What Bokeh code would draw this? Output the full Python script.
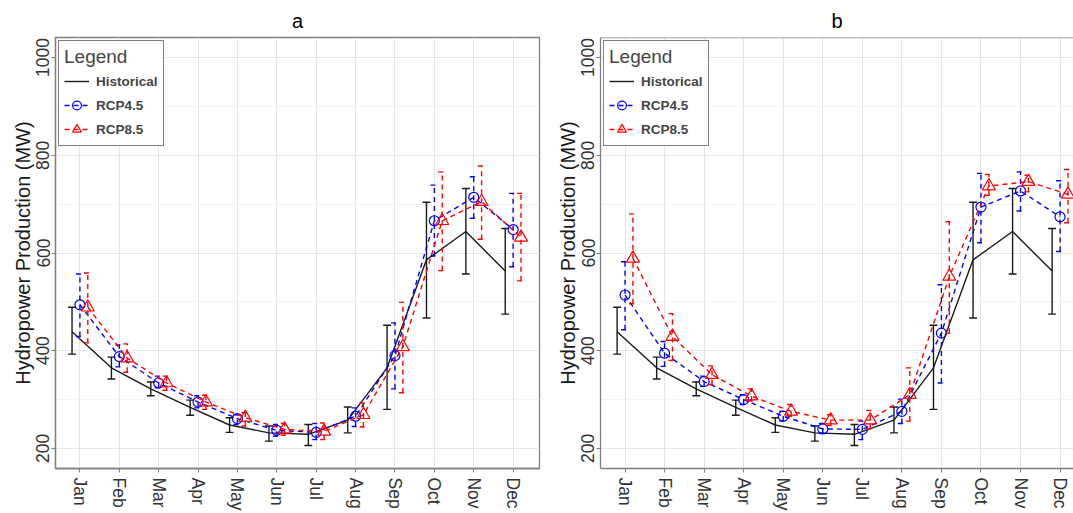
import math
from bokeh.plotting import figure
from bokeh.layouts import row
from bokeh.models import FixedTicker, Legend, LegendItem, Range1d, Span
from bokeh.embed import file_html
from bokeh.resources import INLINE

months = ["Jan", "Feb", "Mar", "Apr", "May", "Jun", "Jul", "Aug", "Sep", "Oct", "Nov", "Dec"]

hist_mean = [439, 365, 322, 284, 248, 232, 229, 258, 365, 586, 644, 563]
hist_low = [393, 342, 308, 268, 233, 215, 206, 232, 280, 467, 557, 475]
hist_high = [489, 387, 336, 299, 263, 246, 249, 285, 452, 704, 732, 650]

a45_mean = [494, 388, 334, 295, 261, 237, 233, 266, 390, 666, 714, 648]
a45_low = [429, 367, 324, 283, 249, 225, 218, 245, 322, 594, 671, 572]
a45_high = [557, 412, 348, 308, 269, 249, 251, 283, 457, 739, 756, 722]

a85_mean = [489, 385, 334, 295, 263, 239, 235, 269, 408, 666, 705, 632]
a85_low = [416, 356, 319, 280, 246, 227, 218, 244, 314, 564, 628, 543]
a85_high = [559, 414, 348, 309, 273, 251, 252, 293, 499, 766, 778, 722]

b45_mean = [514, 395, 337, 300, 266, 240, 239, 276, 436, 694, 727, 674]
b45_low = [443, 368, 327, 290, 256, 231, 218, 251, 334, 621, 686, 603]
b45_high = [582, 419, 348, 310, 276, 251, 256, 301, 535, 763, 766, 748]

b85_mean = [589, 429, 351, 307, 276, 258, 258, 310, 552, 737, 746, 720]
b85_low = [496, 380, 331, 297, 266, 247, 240, 256, 436, 718, 725, 662]
b85_high = [680, 476, 369, 322, 290, 269, 278, 365, 664, 761, 759, 771]

y_ticks = [200, 400, 600, 800, 1000]
y_minor = [300, 500, 700, 900]

FONT = "Liberation Sans"
GRID = "#e6e6e6"
BORDER = "#7f7f7f"
DODGE = 0.2
CAP = 0.1
Y0, Y1 = 159, 1041


def errbars(p, xs, lo, hi, color, dash):
    kw = dict(line_color=color, line_width=1.4, line_dash=dash)
    p.segment(x0=xs, y0=lo, x1=xs, y1=hi, **kw)
    p.segment(x0=[x - CAP for x in xs], y0=lo, x1=[x + CAP for x in xs], y1=lo, **kw)
    p.segment(x0=[x - CAP for x in xs], y0=hi, x1=[x + CAP for x in xs], y1=hi, **kw)


def make_panel(title, m45, lo45, hi45, m85, lo85, hi85, width, x_end, border_left,
               border_right, full, title_offset):
    p = figure(width=width, height=513, title=title,
               x_range=Range1d(0.38, x_end), y_range=Range1d(Y0, Y1),
               output_backend="svg", toolbar_location=None,
               min_border_left=border_left, min_border_right=border_right,
               min_border_top=37, min_border_bottom=44)
    p.title.align = "center"
    p.title.text_font = FONT
    p.title.text_font_size = "20px"
    p.title.text_font_style = "normal"
    p.title.text_color = "black"
    p.title.standoff = 11
    p.title.offset = title_offset
    if full:
        p.outline_line_color = BORDER
        p.outline_line_width = 1.3
    else:
        p.outline_line_color = None
        p.add_layout(Span(location=Y1, dimension="width", line_color=BORDER, line_width=1.3))

    xs = [i + 1 for i in range(len(months))]
    p.xaxis.ticker = FixedTicker(ticks=xs)
    p.xaxis.major_label_overrides = {x: m for x, m in zip(xs, months)}
    p.xaxis.major_label_orientation = "vertical"
    p.xaxis.axis_label_standoff = 0
    p.xaxis.major_label_standoff = 5
    p.yaxis.ticker = FixedTicker(ticks=y_ticks, minor_ticks=y_minor)
    p.yaxis.major_label_orientation = "vertical"
    p.yaxis.major_label_standoff = 2
    p.yaxis.axis_label = "Hydropower Production (MW)"
    p.yaxis.axis_label_text_font = FONT
    p.yaxis.axis_label_text_font_size = "20px"
    p.yaxis.axis_label_text_font_style = "normal"
    p.yaxis.axis_label_text_color = "#1a1a1a"
    p.yaxis.axis_label_standoff = 0
    for ax in (p.xaxis, p.yaxis):
        ax.major_label_text_font = FONT
        ax.major_label_text_font_size = "17.5px"
        ax.major_label_text_color = "#333333"
        ax.major_tick_line_color = BORDER
        ax.major_tick_in = 0
        ax.major_tick_out = 4
        ax.minor_tick_line_color = None
        ax.axis_line_color = BORDER
        ax.axis_line_width = 1.3
    p.xgrid.grid_line_color = GRID
    p.ygrid.grid_line_color = GRID
    p.ygrid.minor_grid_line_color = "#f3f3f3"

    xh = [x - DODGE for x in xs]
    x45 = list(xs)
    x85 = [x + DODGE for x in xs]

    lh = p.line(xh, hist_mean, line_color="#1a1a1a", line_width=1.4)
    errbars(p, xh, hist_low, hist_high, "#1a1a1a", "solid")

    l45 = p.line(x45, m45, line_color="blue", line_width=1.4, line_dash="5 4")
    errbars(p, x45, lo45, hi45, "blue", "5 4")
    s45 = p.scatter(x45, m45, marker="circle", size=10, fill_color=None,
                    line_color="blue", line_width=1.2)

    l85 = p.line(x85, m85, line_color="red", line_width=1.4, line_dash="5 4")
    errbars(p, x85, lo85, hi85, "red", "5 4")
    s85 = p.scatter(x85, m85, marker="triangle", size=13, fill_color=None,
                    line_color="red", line_width=1.2)

    vd = p.scatter([], [], marker="dash", angle=math.pi / 2, size=22,
                   line_color="#1a1a1a", line_width=1.4)
    legend = Legend(items=[
        LegendItem(label="Historical", renderers=[lh, vd]),
        LegendItem(label="RCP4.5", renderers=[l45, s45]),
        LegendItem(label="RCP8.5", renderers=[l85, s85]),
    ], location="top_left")
    legend.title = "Legend"
    legend.title_text_font = FONT
    legend.title_text_font_size = "19px"
    legend.title_text_font_style = "normal"
    legend.title_standoff = 2
    legend.label_text_font = FONT
    legend.label_text_font_size = "13.5px"
    legend.label_text_font_style = "bold"
    legend.border_line_color = "black"
    legend.border_line_width = 1.3
    legend.background_fill_alpha = 1
    legend.glyph_width = 25
    legend.glyph_height = 22
    legend.label_standoff = 7
    legend.padding = 5
    legend.spacing = 2
    legend.margin = 3
    p.add_layout(legend)
    return p


pa = make_panel("a", a45_mean, a45_low, a45_high, a85_mean, a85_low, a85_high,
                width=553, x_end=12.67, border_left=55, border_right=14, full=True,
                title_offset=0)
pb = make_panel("b", b45_mean, b45_low, b45_high, b85_mean, b85_low, b85_high,
                width=520, x_end=12.34, border_left=47, border_right=0, full=False,
                title_offset=4)

layout = row(pa, pb)
open("out.html", "w").write(file_html(layout, INLINE))
